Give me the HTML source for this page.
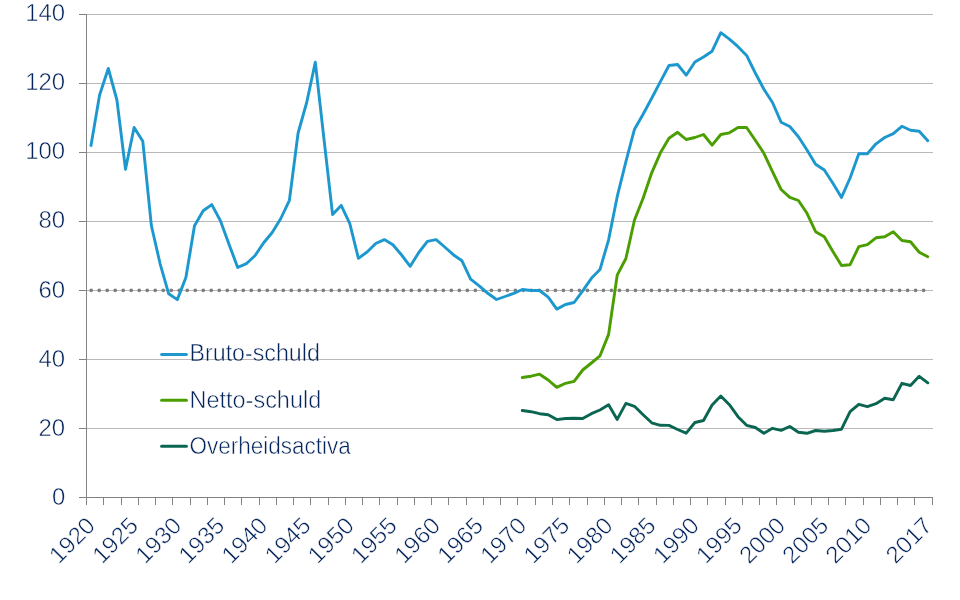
<!DOCTYPE html>
<html lang="nl">
<head>
<meta charset="utf-8">
<title>Bruto-schuld, netto-schuld en overheidsactiva</title>
<style>
html,body{margin:0;padding:0;background:#fff;}
body{width:960px;height:600px;overflow:hidden;font-family:"Liberation Sans",sans-serif;}
svg{display:block;will-change:transform;transform:translateZ(0);}
text{font-family:"Liberation Sans",sans-serif;fill:#05245b;stroke:#fff;stroke-width:0.5px;}
.yl{font-size:23.5px;text-anchor:end;}
.xl{font-size:23.5px;text-anchor:end;}
.lg{font-size:23.5px;}
</style>
</head>
<body>
<svg width="960" height="600" viewBox="0 0 960 600">
<rect x="0" y="0" width="960" height="600" fill="#ffffff"/>

<g stroke="#b9b9b9" stroke-width="1" fill="none">
<line x1="87" y1="14.5" x2="933" y2="14.5"/>
<line x1="87" y1="83.5" x2="933" y2="83.5"/>
<line x1="87" y1="152.5" x2="933" y2="152.5"/>
<line x1="87" y1="221.5" x2="933" y2="221.5"/>
<line x1="87" y1="290.5" x2="933" y2="290.5"/>
<line x1="87" y1="359.5" x2="933" y2="359.5"/>
<line x1="87" y1="428.5" x2="933" y2="428.5"/>
</g>
<g stroke="#838383" stroke-width="1" fill="none">
<line x1="86.5" y1="14.0" x2="86.5" y2="498.0"/>
<line x1="79" y1="497.5" x2="933" y2="497.5"/>
<line x1="79" y1="14.5" x2="86.5" y2="14.5"/>
<line x1="79" y1="83.5" x2="86.5" y2="83.5"/>
<line x1="79" y1="152.5" x2="86.5" y2="152.5"/>
<line x1="79" y1="221.5" x2="86.5" y2="221.5"/>
<line x1="79" y1="290.5" x2="86.5" y2="290.5"/>
<line x1="79" y1="359.5" x2="86.5" y2="359.5"/>
<line x1="79" y1="428.5" x2="86.5" y2="428.5"/>
<line x1="86.50" y1="497.5" x2="86.50" y2="505"/>
<line x1="103.50" y1="497.5" x2="103.50" y2="505"/>
<line x1="121.50" y1="497.5" x2="121.50" y2="505"/>
<line x1="138.50" y1="497.5" x2="138.50" y2="505"/>
<line x1="155.50" y1="497.5" x2="155.50" y2="505"/>
<line x1="172.50" y1="497.5" x2="172.50" y2="505"/>
<line x1="190.50" y1="497.5" x2="190.50" y2="505"/>
<line x1="207.50" y1="497.5" x2="207.50" y2="505"/>
<line x1="224.50" y1="497.5" x2="224.50" y2="505"/>
<line x1="241.50" y1="497.5" x2="241.50" y2="505"/>
<line x1="259.50" y1="497.5" x2="259.50" y2="505"/>
<line x1="276.50" y1="497.5" x2="276.50" y2="505"/>
<line x1="293.50" y1="497.5" x2="293.50" y2="505"/>
<line x1="310.50" y1="497.5" x2="310.50" y2="505"/>
<line x1="328.50" y1="497.5" x2="328.50" y2="505"/>
<line x1="345.50" y1="497.5" x2="345.50" y2="505"/>
<line x1="362.50" y1="497.5" x2="362.50" y2="505"/>
<line x1="379.50" y1="497.5" x2="379.50" y2="505"/>
<line x1="397.50" y1="497.5" x2="397.50" y2="505"/>
<line x1="414.50" y1="497.5" x2="414.50" y2="505"/>
<line x1="431.50" y1="497.5" x2="431.50" y2="505"/>
<line x1="448.50" y1="497.5" x2="448.50" y2="505"/>
<line x1="466.50" y1="497.5" x2="466.50" y2="505"/>
<line x1="483.50" y1="497.5" x2="483.50" y2="505"/>
<line x1="500.50" y1="497.5" x2="500.50" y2="505"/>
<line x1="517.50" y1="497.5" x2="517.50" y2="505"/>
<line x1="535.50" y1="497.5" x2="535.50" y2="505"/>
<line x1="552.50" y1="497.5" x2="552.50" y2="505"/>
<line x1="569.50" y1="497.5" x2="569.50" y2="505"/>
<line x1="587.50" y1="497.5" x2="587.50" y2="505"/>
<line x1="604.50" y1="497.5" x2="604.50" y2="505"/>
<line x1="621.50" y1="497.5" x2="621.50" y2="505"/>
<line x1="638.50" y1="497.5" x2="638.50" y2="505"/>
<line x1="656.50" y1="497.5" x2="656.50" y2="505"/>
<line x1="673.50" y1="497.5" x2="673.50" y2="505"/>
<line x1="690.50" y1="497.5" x2="690.50" y2="505"/>
<line x1="707.50" y1="497.5" x2="707.50" y2="505"/>
<line x1="725.50" y1="497.5" x2="725.50" y2="505"/>
<line x1="742.50" y1="497.5" x2="742.50" y2="505"/>
<line x1="759.50" y1="497.5" x2="759.50" y2="505"/>
<line x1="776.50" y1="497.5" x2="776.50" y2="505"/>
<line x1="794.50" y1="497.5" x2="794.50" y2="505"/>
<line x1="811.50" y1="497.5" x2="811.50" y2="505"/>
<line x1="828.50" y1="497.5" x2="828.50" y2="505"/>
<line x1="845.50" y1="497.5" x2="845.50" y2="505"/>
<line x1="863.50" y1="497.5" x2="863.50" y2="505"/>
<line x1="880.50" y1="497.5" x2="880.50" y2="505"/>
<line x1="897.50" y1="497.5" x2="897.50" y2="505"/>
<line x1="914.50" y1="497.5" x2="914.50" y2="505"/>
<line x1="932.50" y1="497.5" x2="932.50" y2="505"/>
</g>
<line x1="91.2" y1="290.3" x2="929" y2="290.3" stroke="#7f7f7f" stroke-width="3.8" stroke-linecap="round" stroke-dasharray="0 8.004"/>
<polyline points="522.3,410.5 531.0,411.7 539.6,413.7 548.2,414.7 556.8,419.6 565.5,418.5 574.1,418.3 582.7,418.5 591.4,413.7 600.0,410.0 608.6,404.8 617.2,419.4 625.9,403.4 634.5,406.3 643.1,414.7 651.7,422.8 660.4,425.3 669.0,425.4 677.6,429.5 686.2,433.2 694.9,422.5 703.5,420.5 712.1,405.0 720.8,396.0 729.4,404.7 738.0,416.7 746.6,425.3 755.3,427.5 763.9,433.2 772.5,428.3 781.1,430.3 789.8,426.5 798.4,432.3 807.0,433.3 815.6,430.5 824.3,431.3 832.9,430.5 841.5,429.2 850.1,411.7 858.8,404.3 867.4,406.7 876.0,403.7 884.7,398.3 893.3,399.7 901.9,383.3 910.5,385.5 919.2,376.3 927.8,382.8" fill="none" stroke="#0a6650" stroke-width="2.9" stroke-linejoin="round" stroke-linecap="round"/>
<polyline points="522.3,377.5 531.0,376.2 539.6,374.2 548.2,380.0 556.8,387.4 565.5,383.3 574.1,381.3 582.7,370.0 591.4,363.0 600.0,355.8 608.6,334.4 617.2,275.2 625.9,258.5 634.5,220.0 643.1,198.3 651.7,172.8 660.4,152.8 669.0,138.3 677.6,132.3 686.2,139.5 694.9,137.5 703.5,134.5 712.1,145.2 720.8,134.5 729.4,132.8 738.0,127.5 746.6,127.5 755.3,140.2 763.9,153.3 772.5,171.7 781.1,189.5 789.8,197.3 798.4,200.5 807.0,213.3 815.6,231.7 824.3,236.7 832.9,251.5 841.5,265.5 850.1,264.7 858.8,246.7 867.4,244.7 876.0,237.8 884.7,236.7 893.3,231.7 901.9,240.5 910.5,241.7 919.2,252.2 927.8,256.7" fill="none" stroke="#4a9e00" stroke-width="2.9" stroke-linejoin="round" stroke-linecap="round"/>
<polyline points="91.0,145.5 99.6,95.0 108.3,68.5 116.9,100.0 125.5,169.3 134.1,127.5 142.8,141.3 151.4,225.8 160.0,263.3 168.7,293.8 177.3,299.6 185.9,277.5 194.5,225.8 203.2,210.8 211.8,204.6 220.4,220.8 229.0,244.2 237.7,267.5 246.3,263.7 254.9,255.8 263.5,243.0 272.2,232.5 280.8,218.5 289.4,200.3 298.1,133.0 306.7,102.5 315.3,62.2 323.9,138.4 332.6,214.6 341.2,205.4 349.8,223.7 358.4,258.3 367.1,252.0 375.7,243.5 384.3,239.6 392.9,244.7 401.6,255.0 410.2,266.3 418.8,252.5 427.4,241.3 436.1,239.6 444.7,247.0 453.3,254.7 462.0,260.8 470.6,279.2 479.2,285.8 487.8,293.3 496.5,299.5 505.1,296.5 513.7,293.3 522.3,289.5 531.0,290.5 539.6,290.5 548.2,297.2 556.8,309.1 565.5,304.5 574.1,302.5 582.7,290.8 591.4,278.3 600.0,269.5 608.6,239.8 617.2,196.7 625.9,161.7 634.5,129.2 643.1,114.2 651.7,98.3 660.4,81.7 669.0,65.5 677.6,64.5 686.2,75.2 694.9,62.0 703.5,57.0 712.1,51.2 720.8,32.7 729.4,39.2 738.0,46.7 746.6,55.4 755.3,73.0 763.9,89.2 772.5,102.5 781.1,122.2 789.8,126.5 798.4,136.7 807.0,150.0 815.6,164.2 824.3,170.0 832.9,183.3 841.5,197.4 850.1,178.0 858.8,153.7 867.4,153.7 876.0,143.8 884.7,137.5 893.3,133.7 901.9,126.3 910.5,130.3 919.2,131.3 927.8,140.8" fill="none" stroke="#1c98cf" stroke-width="2.9" stroke-linejoin="round" stroke-linecap="round"/>
<g style="mix-blend-mode:multiply">
<text class="yl" x="65.2" y="20.8" textLength="40.0" lengthAdjust="spacingAndGlyphs">140</text>
<text class="yl" x="65.2" y="90.0" textLength="40.0" lengthAdjust="spacingAndGlyphs">120</text>
<text class="yl" x="65.2" y="159.2" textLength="40.0" lengthAdjust="spacingAndGlyphs">100</text>
<text class="yl" x="65.2" y="228.3" textLength="26.7" lengthAdjust="spacingAndGlyphs">80</text>
<text class="yl" x="65.2" y="297.5" textLength="26.7" lengthAdjust="spacingAndGlyphs">60</text>
<text class="yl" x="65.2" y="366.7" textLength="26.7" lengthAdjust="spacingAndGlyphs">40</text>
<text class="yl" x="65.2" y="435.9" textLength="26.7" lengthAdjust="spacingAndGlyphs">20</text>
<text class="yl" x="65.2" y="505.1" textLength="13.3" lengthAdjust="spacingAndGlyphs">0</text>
<text class="xl" transform="translate(96.5,527.0) rotate(-45)" textLength="53.3" lengthAdjust="spacingAndGlyphs">1920</text>
<text class="xl" transform="translate(139.6,527.0) rotate(-45)" textLength="53.3" lengthAdjust="spacingAndGlyphs">1925</text>
<text class="xl" transform="translate(182.8,527.0) rotate(-45)" textLength="53.3" lengthAdjust="spacingAndGlyphs">1930</text>
<text class="xl" transform="translate(225.9,527.0) rotate(-45)" textLength="53.3" lengthAdjust="spacingAndGlyphs">1935</text>
<text class="xl" transform="translate(269.0,527.0) rotate(-45)" textLength="53.3" lengthAdjust="spacingAndGlyphs">1940</text>
<text class="xl" transform="translate(312.2,527.0) rotate(-45)" textLength="53.3" lengthAdjust="spacingAndGlyphs">1945</text>
<text class="xl" transform="translate(355.3,527.0) rotate(-45)" textLength="53.3" lengthAdjust="spacingAndGlyphs">1950</text>
<text class="xl" transform="translate(398.4,527.0) rotate(-45)" textLength="53.3" lengthAdjust="spacingAndGlyphs">1955</text>
<text class="xl" transform="translate(441.6,527.0) rotate(-45)" textLength="53.3" lengthAdjust="spacingAndGlyphs">1960</text>
<text class="xl" transform="translate(484.7,527.0) rotate(-45)" textLength="53.3" lengthAdjust="spacingAndGlyphs">1965</text>
<text class="xl" transform="translate(527.8,527.0) rotate(-45)" textLength="53.3" lengthAdjust="spacingAndGlyphs">1970</text>
<text class="xl" transform="translate(571.0,527.0) rotate(-45)" textLength="53.3" lengthAdjust="spacingAndGlyphs">1975</text>
<text class="xl" transform="translate(614.1,527.0) rotate(-45)" textLength="53.3" lengthAdjust="spacingAndGlyphs">1980</text>
<text class="xl" transform="translate(657.2,527.0) rotate(-45)" textLength="53.3" lengthAdjust="spacingAndGlyphs">1985</text>
<text class="xl" transform="translate(700.4,527.0) rotate(-45)" textLength="53.3" lengthAdjust="spacingAndGlyphs">1990</text>
<text class="xl" transform="translate(743.5,527.0) rotate(-45)" textLength="53.3" lengthAdjust="spacingAndGlyphs">1995</text>
<text class="xl" transform="translate(786.6,527.0) rotate(-45)" textLength="53.3" lengthAdjust="spacingAndGlyphs">2000</text>
<text class="xl" transform="translate(829.8,527.0) rotate(-45)" textLength="53.3" lengthAdjust="spacingAndGlyphs">2005</text>
<text class="xl" transform="translate(872.9,527.0) rotate(-45)" textLength="53.3" lengthAdjust="spacingAndGlyphs">2010</text>
<text class="xl" transform="translate(933.3,527.0) rotate(-45)" textLength="53.3" lengthAdjust="spacingAndGlyphs">2017</text>
<line x1="161.6" y1="354.5" x2="186.4" y2="354.5" stroke="#1c98cf" stroke-width="3" stroke-linecap="round"/>
<text class="lg" x="189.6" y="360.6" textLength="130.2" lengthAdjust="spacingAndGlyphs">Bruto-schuld</text>
<line x1="161.6" y1="400.3" x2="186.4" y2="400.3" stroke="#4a9e00" stroke-width="3" stroke-linecap="round"/>
<text class="lg" x="189.6" y="407.7" textLength="131.6" lengthAdjust="spacingAndGlyphs">Netto-schuld</text>
<line x1="161.6" y1="446.3" x2="186.4" y2="446.3" stroke="#0a6650" stroke-width="3" stroke-linecap="round"/>
<text class="lg" x="189.6" y="453.6" textLength="161.2" lengthAdjust="spacingAndGlyphs">Overheidsactiva</text>
</g>
</svg>
</body>
</html>
